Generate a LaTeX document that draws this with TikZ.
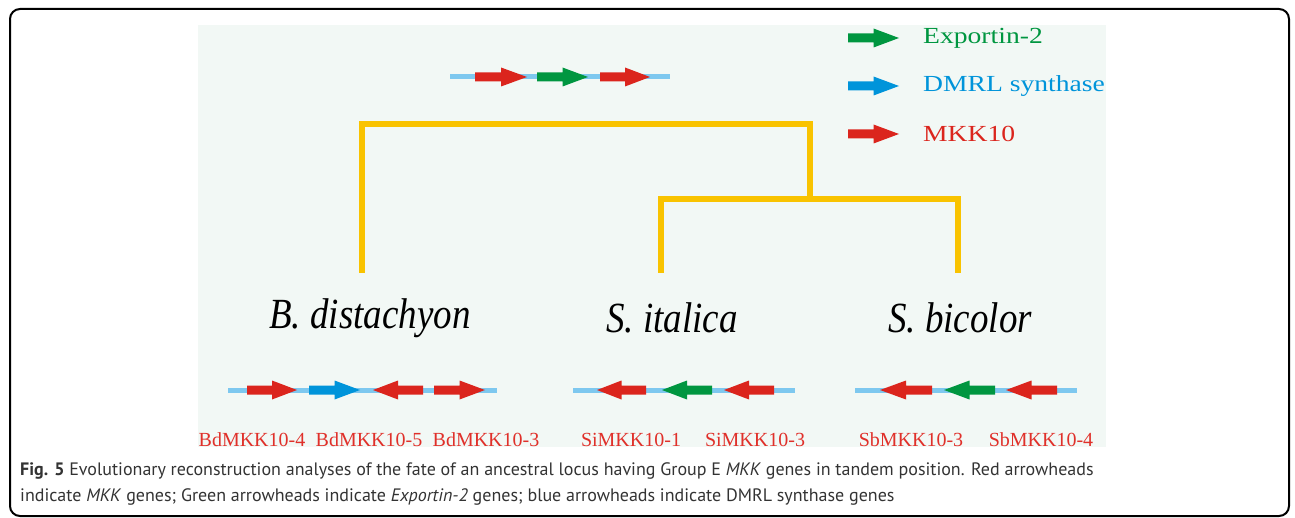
\documentclass[tikz,border=0pt]{standalone}
\usepackage{fontspec}
\setmainfont{Liberation Serif}
\newfontfamily\legendfont[FakeStretch=1.2]{Liberation Serif}
\newfontfamily\speciesfont[FakeStretch=0.86]{Liberation Serif}
\newfontfamily\capfont{PT Sans}
\usetikzlibrary{positioning}

\definecolor{mkkred}{HTML}{DB251D}
\definecolor{expgreen}{HTML}{009640}
\definecolor{dmrlblue}{HTML}{0094DA}
\definecolor{locusblue}{HTML}{7EC8EF}
\definecolor{treeyellow}{HTML}{F9C300}
\definecolor{panelbg}{HTML}{F2F8F5}
\definecolor{labred}{HTML}{E0302A}
\definecolor{captext}{HTML}{333333}

% tail x, tip x, y, colour
\newcommand{\GeneArrow}[4]{%
  \pgfmathsetmacro\hs{#2+(#1-#2)*0.5}
  \fill[#4] (#1,#3-4.5) -- (\hs,#3-4.5) -- (\hs,#3-9.5) -- (#2,#3)
    -- (\hs,#3+9.5) -- (\hs,#3+4.5) -- (#1,#3+4.5) -- cycle;}

\begin{document}
\begin{tikzpicture}[x=1pt, y=-1pt,
    locus/.style={line width=5pt, locusblue},
    branch/.style={line width=6pt, treeyellow, line join=miter},
    legendlabel/.style={anchor=west, inner sep=0pt, font=\legendfont\fontsize{23}{26}\selectfont},
    species/.style={inner sep=0pt, font=\speciesfont\itshape\fontsize{43}{47}\selectfont},
    genelabel/.style={anchor=base, inner sep=0pt, labred, font=\fontsize{20}{24}\selectfont},
    captionline/.style={anchor=west, inner sep=0pt, captext, font=\capfont\fontsize{18}{22}\selectfont}]
  \useasboundingbox (0,0) rectangle (1295,518);
  \draw[line width=2pt, rounded corners=10pt] (10,9) rectangle (1289,516);
  \fill[panelbg] (198,25) rectangle (1106,447);

  % ancestral locus
  \coordinate (ancL) at (450,77);
  \coordinate (ancR) at (670,77);
  \draw[locus] (ancL) -- (ancR);
  \GeneArrow{475}{527}{77}{mkkred}
  \GeneArrow{537}{588}{77}{expgreen}
  \GeneArrow{600}{650}{77}{mkkred}

  % legend
  \GeneArrow{848}{899}{38}{expgreen}
  \GeneArrow{848}{899}{86}{dmrlblue}
  \GeneArrow{848}{899}{134}{mkkred}
  \node[legendlabel, expgreen] (lgExp) at (923,38) {Exportin-2};
  \node[legendlabel, dmrlblue] (lgDmrl) at (923,86) {DMRL synthase};
  \node[legendlabel, mkkred] (lgMkk) at (923,134) {MKK10};

  % tree
  \coordinate (bdLeaf) at (362,273);
  \coordinate (siLeaf) at (661,273);
  \coordinate (sbLeaf) at (958,273);
  \coordinate (rootL) at (362,124);
  \coordinate (rootR) at (810,124);
  \coordinate (siSb) at (810,199);
  \draw[branch] (bdLeaf) -- (rootL) -- (rootR) -- (siSb);
  \draw[branch] (siLeaf) |- (siSb) -| (sbLeaf);

  \node[species] (bd) at (370,318) {B. distachyon};
  \node[species] (si) at (672,318) {S. italica};
  \node[species] (sb) at (960,318) {S. bicolor};

  % B. distachyon locus
  \coordinate (bdL) at (228,390);
  \coordinate (bdR) at (497,390);
  \draw[locus] (bdL) -- (bdR);
  \GeneArrow{247}{297}{390}{mkkred}
  \GeneArrow{309}{360}{390}{dmrlblue}
  \GeneArrow{423}{373}{390}{mkkred}
  \GeneArrow{434}{485}{390}{mkkred}

  % S. italica locus
  \coordinate (siL) at (573,390);
  \coordinate (siR) at (795,390);
  \draw[locus] (siL) -- (siR);
  \GeneArrow{646}{597}{390}{mkkred}
  \GeneArrow{712}{662}{390}{expgreen}
  \GeneArrow{774}{724}{390}{mkkred}

  % S. bicolor locus
  \coordinate (sbL) at (855,390);
  \coordinate (sbR) at (1077,390);
  \draw[locus] (sbL) -- (sbR);
  \GeneArrow{932}{880}{390}{mkkred}
  \GeneArrow{995}{944}{390}{expgreen}
  \GeneArrow{1057}{1006}{390}{mkkred}

  % gene names
  \node[genelabel] (bd4) at (252,446) {BdMKK10-4};
  \node[genelabel] (bd5) at (369,446) {BdMKK10-5};
  \node[genelabel] (bd3) at (486,446) {BdMKK10-3};
  \node[genelabel] (si1) at (631,446) {SiMKK10-1};
  \node[genelabel] (si3) at (755,446) {SiMKK10-3};
  \node[genelabel] (sb3) at (911,446) {SbMKK10-3};
  \node[genelabel] (sb4) at (1041,446) {SbMKK10-4};

  % caption
  \node[captionline] (cap1) at (20,471) {\textbf{Fig. 5} Evolutionary reconstruction analyses of the fate of an ancestral locus having Group E \textit{MKK} genes in tandem position. Red arrowheads};
  \node[captionline] (cap2) at (20,497) {indicate \textit{MKK} genes; Green arrowheads indicate \textit{Exportin-2} genes; blue arrowheads indicate DMRL synthase genes};
\end{tikzpicture}
\end{document}
